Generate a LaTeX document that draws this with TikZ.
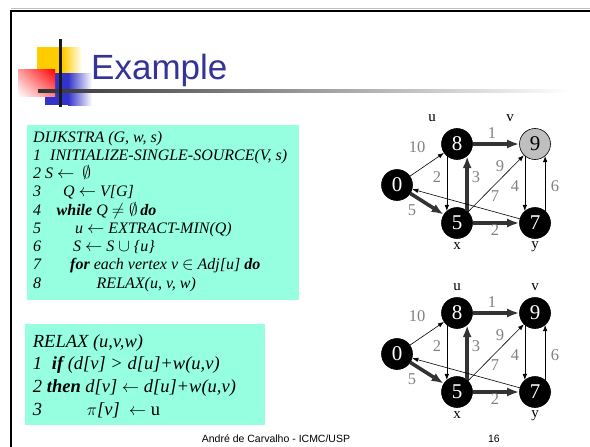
\documentclass[tikz,border=0pt]{standalone}
\usepackage{fontspec}
\usepackage{amssymb}
\setmainfont{Liberation Serif}
\newfontfamily\slidefont{Liberation Sans}
\usetikzlibrary{arrows.meta,shadings}
\definecolor{titleblue}{RGB}{51,51,153}
\definecolor{codecyan}{RGB}{150,255,224}
\definecolor{logoyellow}{RGB}{255,204,0}
\definecolor{logored}{RGB}{255,0,0}
\definecolor{logoblue}{RGB}{51,51,204}
\definecolor{weightgray}{RGB}{128,128,128}

\begin{document}
\begin{tikzpicture}[
  x=1pt, y=-1pt,
  vtx/.style={circle, fill=black, draw=black, line width=0.6pt, minimum size=31pt,
              inner sep=0pt, text=white, font=\fontsize{21}{21}\selectfont},
  arr/.style={-{Latex[length=6pt,width=4.5pt]}, line width=0.6pt},
  treearr/.style={-{Latex[length=12pt,width=9pt]}, line width=3.6pt, draw=black!80},
  wlab/.style={text=weightgray, font=\fontsize{16.5}{16.5}\selectfont, inner sep=0pt},
  vlab/.style={font=\fontsize{15}{15}\selectfont, inner sep=0pt},
  codebox/.style={fill=codecyan, inner sep=0pt, anchor=north west},
  codeline/.style={anchor=base west, inner sep=0pt, font=\fontsize{16}{16}\selectfont\itshape},
  relaxline/.style={anchor=base west, inner sep=0pt, font=\fontsize{18.5}{18.5}\selectfont\itshape}
]
\useasboundingbox (0,0) rectangle (590,447);

% slide frame
\draw[black!25, line width=1pt] (11,8.5) -- (590,8.5);
\draw[line width=2.6pt] (11,447) -- (11,11) -- (590,11);

% logo
\fill[logoyellow] (37,47) rectangle (63,73);
\shade[left color=logoyellow, right color=white] (63,47) rectangle (82,73);
\fill[logoblue] (45,73) rectangle (68,105);
\shade[left color=logoblue, right color=white] (68,73) rectangle (92,105);
\shade[upper right=logored, upper left=red!40, lower right=red!50, lower left=white] (18,69) rectangle (55,96);
\shade[left color=black!80, middle color=black!33, right color=white] (38,89.5) rectangle (570,92.5);
\draw[line width=3pt, black!90] (60,39) -- (60,107);

\node[anchor=base west, text=titleblue, inner sep=0pt,
      font=\slidefont\fontsize{35}{35}\selectfont] (title) at (91,79) {Example};

% algorithm boxes
\node[codebox, minimum width=272pt, minimum height=175pt] (dijkbox) at (27,125) {};
\node[codeline] (dijkhead) at (33,142) {DIJKSTRA (G, w, s)};
\foreach \num/\ind/\txt [count=\i from 1] in {
  1/17/{INITIALIZE-SINGLE-SOURCE(V, s)},
  2/12/{S $\leftarrow$ \ $\emptyset$},
  3/30/{Q $\leftarrow$ V[G]},
  4/23.5/{\textbf{while} Q $\neq\emptyset$\,\textbf{do}},
  5/42/{u $\leftarrow$ EXTRACT-MIN(Q)},
  6/40/{S $\leftarrow$ S $\cup$ \{u\}},
  7/37/{\textbf{for} each vertex v $\in$ Adj[u] \textbf{do}},
  8/63.5/{RELAX(u, v, w)}}{
  \node[codeline] (dnum\i) at (33,142+18.25*\i) {\num};
  \node[codeline] (dline\i) at (33+\ind,142+18.25*\i) {\txt};
}

\node[codebox, minimum width=240pt, minimum height=101pt] (relaxbox) at (25,324) {};
\node[relaxline] (relaxhead) at (32.7,347) {RELAX (u,v,w)};
\foreach \num/\ind/\txt [count=\i from 1] in {
  1/19/{\textbf{if} (d[v] > d[u]+w(u,v)},
  2/14/{\textbf{then} d[v] $\leftarrow$ d[u]+w(u,v)},
  3/54/{$\pi$[v] \ $\leftarrow$ \textup{u}}}{
  \node[relaxline] (rnum\i) at (32.7,347+22.8*\i) {\num};
  \node[relaxline] (rline\i) at (32.7+\ind,347+22.8*\i) {\txt};
}

% the two graphs
\foreach \g/\dy/\vcol/\vtxt/\ushift in {a/0/black!25/black/-25, b/169/black/white/0}{
  \begin{scope}[shift={(0,\dy)}]
    \node[vtx] (s\g) at (397,185) {0};
    \node[vtx] (u\g) at (457,144) {8};
    \node[vtx, fill=\vcol, text=\vtxt] (v\g) at (535,144) {9};
    \node[vtx] (x\g) at (457,223) {5};
    \node[vtx] (y\g) at (535,223) {7};

    \node[vlab] (lu\g) at (457+\ushift,118) {u};
    \node[vlab] (lv\g) at (535+\ushift,118) {v};
    \node[vlab] (lx\g) at (457,246.5) {x};
    \node[vlab] (ly\g) at (535,246.5) {y};

    \draw[arr] (s\g) -- (u\g);
    \draw[treearr] (s\g) -- (x\g);
    \draw[treearr] (u\g) -- (v\g);
    \draw[arr] (u\g.230) -- (x\g.130);
    \draw[treearr] (x\g.50) -- (u\g.-50);
    \draw[arr] (x\g) -- (v\g);
    \draw[treearr] (x\g) -- (y\g);
    \draw[arr] (v\g.230) -- (y\g.130);
    \draw[arr] (y\g.50) -- (v\g.-50);
    \draw[arr] (y\g) -- (s\g);

    \node[wlab] (w10\g) at (417,147) {10};
    \node[wlab] (w1\g) at (492,133) {1};
    \node[wlab] (w2a\g) at (437,177) {2};
    \node[wlab] (w3\g) at (476,177) {3};
    \node[wlab] (w9\g) at (500,166) {9};
    \node[wlab] (w4\g) at (515,186) {4};
    \node[wlab] (w6\g) at (555,186) {6};
    \node[wlab] (w7\g) at (495,196) {7};
    \node[wlab] (w5\g) at (412,210) {5};
    \node[wlab] (w2b\g) at (495,230) {2};
  \end{scope}
}

% footer
\node[anchor=base, inner sep=0pt, font=\slidefont\fontsize{10.5}{10.5}\selectfont] (author) at (276,442) {André de Carvalho - ICMC/USP};
\node[anchor=base east, inner sep=0pt, font=\slidefont\fontsize{10.5}{10.5}\selectfont] (pageno) at (500,442) {16};
\end{tikzpicture}
\end{document}
